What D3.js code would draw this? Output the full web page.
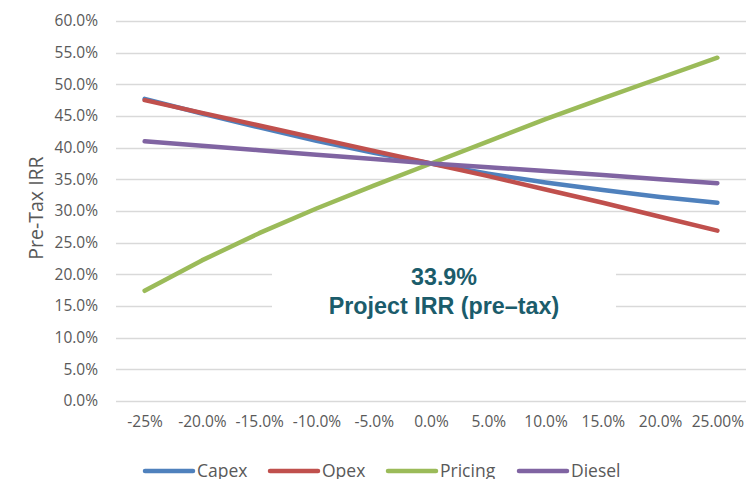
<!DOCTYPE html>
<html>
<head>
<meta charset="utf-8">
<script src="https://cdn.jsdelivr.net/npm/d3@7"></script>
<style>
  body { margin: 0; background: #fff; }
  #chart { width: 747px; height: 479px; }
  text { font-family: "Open Sans", sans-serif; fill: #595959; }
  text.note { font-family: "Liberation Sans", Arial, sans-serif; font-weight: bold; font-size: 23.3px; fill: #1B5C6B; }
</style>
</head>
<body>
<div id="chart"></div>
<script>
// categories (sensitivity change)
const categories = ["-25%", "-20.0%", "-15.0%", "-10.0%", "-5.0%", "0.0%", "5.0%", "10.0%", "15.0%", "20.0%", "25.00%"];

// series values (pre-tax IRR, %)
const capex = [47.7, 45.4, 43.2, 41.1, 39.2, 37.5, 35.9, 34.5, 33.3, 32.2, 31.3];
const opex = [47.5, 45.5, 43.5, 41.5, 39.5, 37.5, 35.5, 33.4, 31.3, 29.1, 26.9];
const pricing = [17.4, 22.2, 26.5, 30.4, 34.0, 37.5, 41.0, 44.5, 47.8, 51.0, 54.2];
const diesel = [41.0, 40.3, 39.6, 38.9, 38.2, 37.5, 36.9, 36.3, 35.7, 35.0, 34.4];

const seriesNames = ["Capex", "Opex", "Pricing", "Diesel"];
const seriesValues = [capex, opex, pricing, diesel];
const colors = ["#4F81BD", "#C0504D", "#9BBB59", "#8064A2"];

const yTicks = [0, 5, 10, 15, 20, 25, 30, 35, 40, 45, 50, 55, 60];
const irrLabel = "33.9%";
const irrCaption = "Project IRR (pre\u2013tax)";

function chart() {
  const container = d3.select("#chart");
  const width = 747;
  const height = 479;
  const marginLeft = 116;
  const marginRight = 1;
  const marginTop = 21;
  const chartBottom = 401;

  const svg = container.append("svg")
    .attr("width", width)
    .attr("height", height);

  // scales
  const xScale = d3.scalePoint()
    .domain(categories)
    .range([marginLeft, width - marginRight])
    .padding(0.5);

  const yScale = d3.scaleLinear()
    .domain([0, 60])
    .range([chartBottom, marginTop]);

  // gridlines
  svg.append("g")
    .selectAll("line")
    .data(yTicks)
    .join("line")
    .attr("x1", marginLeft)
    .attr("x2", width - marginRight)
    .attr("y1", (d) => Math.round(yScale(d)) + 0.5)
    .attr("y2", (d) => Math.round(yScale(d)) + 0.5)
    .attr("stroke", "#D9D9D9")
    .attr("stroke-width", 1.5);

  // y axis
  const yaxis = d3.axisLeft(yScale)
    .tickValues(yTicks)
    .tickSize(0)
    .tickPadding(18)
    .tickFormat((d) => d.toFixed(1) + "%");

  svg.append("g")
    .attr("transform", `translate(${marginLeft},0)`)
    .call(yaxis)
    .call((g) => g.select(".domain").remove())
    .selectAll("text")
    .style("font-family", "Open Sans, sans-serif")
    .style("font-size", "15.5px")
    .attr("fill", "#595959");

  // x axis
  const xaxis = d3.axisBottom(xScale).tickSize(0).tickPadding(15);

  svg.append("g")
    .attr("transform", `translate(0,${chartBottom})`)
    .call(xaxis)
    .call((g) => g.select(".domain").remove())
    .selectAll("text")
    .style("font-family", "Open Sans, sans-serif")
    .style("font-size", "15.5px")
    .attr("fill", "#595959");

  // y axis title
  svg.append("text")
    .attr("transform", "translate(43,208) rotate(-90)")
    .attr("text-anchor", "middle")
    .style("font-size", "19.5px")
    .text("Pre-Tax IRR");

  // lines
  const line = d3.line()
    .x((d, i) => xScale(categories[i]))
    .y((d) => yScale(d));

  svg.append("g")
    .selectAll("path")
    .data(seriesValues)
    .join("path")
    .attr("d", (d) => line(d))
    .attr("fill", "none")
    .attr("stroke", (d, i) => colors[i])
    .attr("stroke-width", 4.5)
    .attr("stroke-linecap", "round")
    .attr("stroke-linejoin", "round");

  // annotation box
  svg.append("rect")
    .attr("x", 272)
    .attr("y", 252)
    .attr("width", 344)
    .attr("height", 72)
    .attr("fill", "#fff");

  const note = svg.append("g").attr("text-anchor", "middle");

  note.append("text")
    .attr("class", "note")
    .attr("x", 444)
    .attr("y", 285)
    .text(irrLabel);

  note.append("text")
    .attr("class", "note")
    .attr("x", 444)
    .attr("y", 314)
    .text(irrCaption);

  // legend
  const legendX = [145, 270, 388, 519];
  const legend = svg.append("g")
    .selectAll("g")
    .data(seriesNames)
    .join("g")
    .attr("transform", (d, i) => `translate(${legendX[i]},471)`);

  legend.append("line")
    .attr("x1", 0)
    .attr("x2", 48)
    .attr("stroke", (d, i) => colors[i])
    .attr("stroke-width", 4.5)
    .attr("stroke-linecap", "round");

  legend.append("text")
    .attr("x", 52)
    .attr("dy", "0.36em")
    .style("font-size", "17.5px")
    .text((d) => d);
}

chart();
</script>
</body>
</html>
